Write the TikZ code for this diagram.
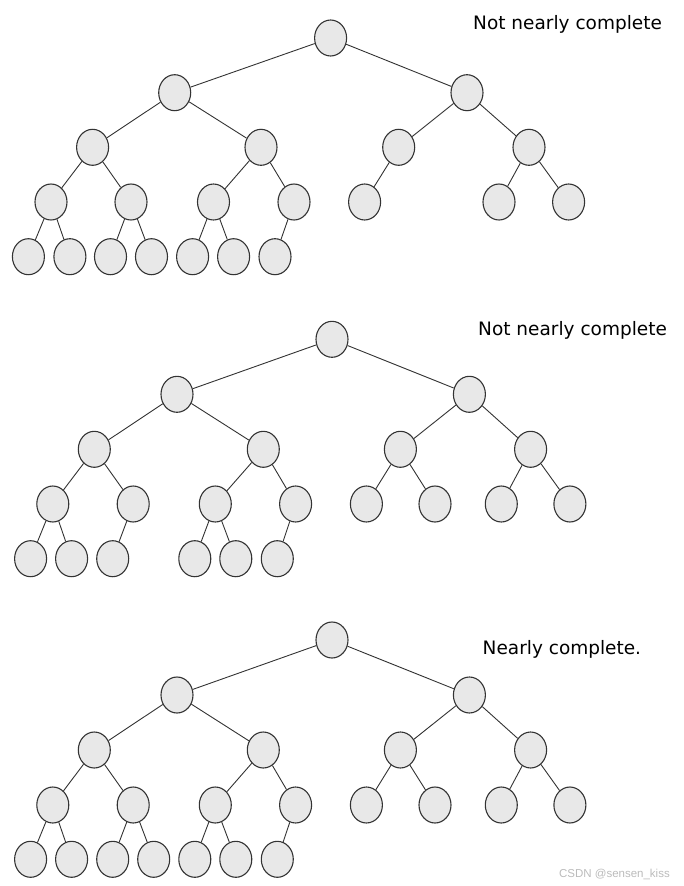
\documentclass[tikz,border=0pt]{standalone}
\usepackage{fontspec}
\setmainfont{DejaVu Sans}
\newfontfamily\wmfont{Liberation Sans}
\usetikzlibrary{shapes.geometric}
\definecolor{nodefill}{HTML}{E8E8E8}
\definecolor{linegray}{HTML}{333333}
\definecolor{wmgray}{HTML}{BBBBBB}
\tikzset{
  tn/.style={ellipse, draw=linegray, fill=nodefill, line width=1.1pt, minimum width=32pt, minimum height=36pt, inner sep=0pt},
  edge/.style={draw=linegray, line width=0.9pt},
  lab/.style={anchor=base west, inner sep=0pt, font=\fontsize{18.5}{20}\selectfont},
  wm/.style={anchor=base east, inner sep=0pt, text=wmgray, font=\wmfont\fontsize{11.5}{12}\selectfont}
}
\begin{document}
\begin{tikzpicture}[x=1pt,y=-1pt]
\useasboundingbox (0,0) rectangle (683,886);
% ---------- Tree 1 ----------
\node[tn] (p1r) at (330.6,38) {};
\node[tn] (p1a) at (174.7,92.7) {};
\node[tn] (p1b) at (467,92.7) {};
\node[tn] (p1aa) at (92.6,147.3) {};
\node[tn] (p1ab) at (261,147.3) {};
\node[tn] (p1ba) at (398.7,147.3) {};
\node[tn] (p1bb) at (529,147.3) {};
\node[tn] (p1aaa) at (51,202) {};
\node[tn] (p1aab) at (131,202) {};
\node[tn] (p1aba) at (213.5,202) {};
\node[tn] (p1abb) at (294,202) {};
\node[tn] (p1baa) at (364.6,202) {};
\node[tn] (p1bba) at (499,202) {};
\node[tn] (p1bbb) at (568.6,202) {};
\node[tn] (p1aaaa) at (28.4,256.7) {};
\node[tn] (p1aaab) at (69.9,256.7) {};
\node[tn] (p1aaba) at (110.5,256.7) {};
\node[tn] (p1aabb) at (151.5,256.7) {};
\node[tn] (p1abaa) at (192.6,256.7) {};
\node[tn] (p1abab) at (233.6,256.7) {};
\node[tn] (p1abba) at (275,256.7) {};
\draw[edge] (p1r)--(p1a) (p1r)--(p1b)
  (p1a)--(p1aa) (p1a)--(p1ab) (p1b)--(p1ba) (p1b)--(p1bb)
  (p1aa)--(p1aaa) (p1aa)--(p1aab) (p1ab)--(p1aba) (p1ab)--(p1abb)
  (p1ba)--(p1baa) (p1bb)--(p1bba) (p1bb)--(p1bbb)
  (p1aaa)--(p1aaaa) (p1aaa)--(p1aaab) (p1aab)--(p1aaba) (p1aab)--(p1aabb)
  (p1aba)--(p1abaa) (p1aba)--(p1abab) (p1abb)--(p1abba);
\node[lab] (lab1) at (473,29) {Not nearly complete};
% ---------- Tree 2 ----------
\node[tn] (p2r) at (332,339.3) {};
\node[tn] (p2a) at (177,394.3) {};
\node[tn] (p2b) at (469.4,394.3) {};
\node[tn] (p2aa) at (94.3,449.3) {};
\node[tn] (p2ab) at (263.3,449.3) {};
\node[tn] (p2ba) at (400.4,449.3) {};
\node[tn] (p2bb) at (530.6,449.3) {};
\node[tn] (p2aaa) at (52.8,504) {};
\node[tn] (p2aab) at (133.2,504) {};
\node[tn] (p2aba) at (215.3,504) {};
\node[tn] (p2abb) at (295.6,504) {};
\node[tn] (p2baa) at (366.4,504) {};
\node[tn] (p2bab) at (435,504) {};
\node[tn] (p2bba) at (501.3,504) {};
\node[tn] (p2bbb) at (569.9,504) {};
\node[tn] (p2aaaa) at (30.6,558.7) {};
\node[tn] (p2aaab) at (71.6,558.7) {};
\node[tn] (p2aaba) at (112.7,558.7) {};
\node[tn] (p2abaa) at (194.8,558.7) {};
\node[tn] (p2abab) at (235.8,558.7) {};
\node[tn] (p2abba) at (277.3,558.7) {};
\draw[edge] (p2r)--(p2a) (p2r)--(p2b)
  (p2a)--(p2aa) (p2a)--(p2ab) (p2b)--(p2ba) (p2b)--(p2bb)
  (p2aa)--(p2aaa) (p2aa)--(p2aab) (p2ab)--(p2aba) (p2ab)--(p2abb)
  (p2ba)--(p2baa) (p2ba)--(p2bab) (p2bb)--(p2bba) (p2bb)--(p2bbb)
  (p2aaa)--(p2aaaa) (p2aaa)--(p2aaab) (p2aab)--(p2aaba)
  (p2aba)--(p2abaa) (p2aba)--(p2abab) (p2abb)--(p2abba);
\node[lab] (lab2) at (478,335) {Not nearly complete};
% ---------- Tree 3 ----------
\node[tn] (p3r) at (332,640) {};
\node[tn] (p3a) at (177,695) {};
\node[tn] (p3b) at (469.4,695) {};
\node[tn] (p3aa) at (94.3,750) {};
\node[tn] (p3ab) at (263.3,750) {};
\node[tn] (p3ba) at (400.4,750) {};
\node[tn] (p3bb) at (530.6,750) {};
\node[tn] (p3aaa) at (52.8,805) {};
\node[tn] (p3aab) at (133.2,805) {};
\node[tn] (p3aba) at (215.3,805) {};
\node[tn] (p3abb) at (295.6,805) {};
\node[tn] (p3baa) at (366.4,805) {};
\node[tn] (p3bab) at (435,805) {};
\node[tn] (p3bba) at (501.3,805) {};
\node[tn] (p3bbb) at (569.9,805) {};
\node[tn] (p3aaaa) at (30.6,859.3) {};
\node[tn] (p3aaab) at (71.6,859.3) {};
\node[tn] (p3aaba) at (112.7,859.3) {};
\node[tn] (p3aabb) at (153.7,859.3) {};
\node[tn] (p3abaa) at (194.8,859.3) {};
\node[tn] (p3abab) at (235.8,859.3) {};
\node[tn] (p3abba) at (277.3,859.3) {};
\draw[edge] (p3r)--(p3a) (p3r)--(p3b)
  (p3a)--(p3aa) (p3a)--(p3ab) (p3b)--(p3ba) (p3b)--(p3bb)
  (p3aa)--(p3aaa) (p3aa)--(p3aab) (p3ab)--(p3aba) (p3ab)--(p3abb)
  (p3ba)--(p3baa) (p3ba)--(p3bab) (p3bb)--(p3bba) (p3bb)--(p3bbb)
  (p3aaa)--(p3aaaa) (p3aaa)--(p3aaab) (p3aab)--(p3aaba) (p3aab)--(p3aabb)
  (p3aba)--(p3abaa) (p3aba)--(p3abab) (p3abb)--(p3abba);
\node[lab] (lab3) at (482.5,654) {Nearly complete.};
\node[wm] (wmark) at (670,877) {CSDN @sensen\_kiss};
\end{tikzpicture}
\end{document}
